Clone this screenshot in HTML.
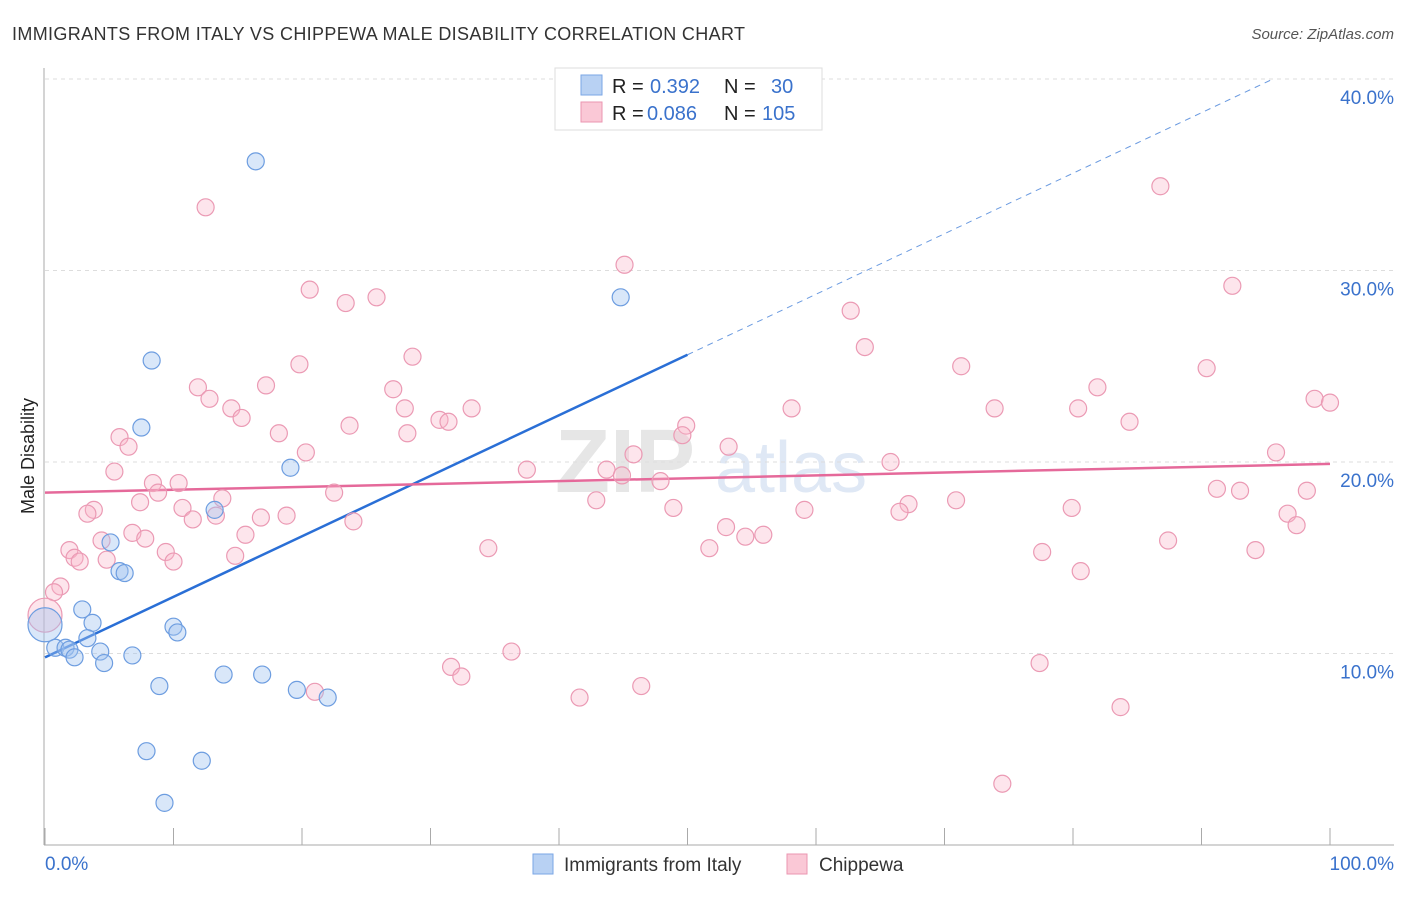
<!DOCTYPE html>
<html><head><meta charset="utf-8"><style>
body{margin:0;background:#fff;font-family:"Liberation Sans",sans-serif;}
svg text{font-family:"Liberation Sans",sans-serif;}
</style></head><body>
<svg id="chart" width="1406" height="892" xmlns="http://www.w3.org/2000/svg">
<text x="12" y="40" font-size="18" fill="#333" textLength="733">IMMIGRANTS FROM ITALY VS CHIPPEWA MALE DISABILITY CORRELATION CHART</text>
<text x="1394" y="39" font-size="15" fill="#555" font-style="italic" text-anchor="end">Source: ZipAtlas.com</text>
<text x="34" y="456" font-size="18" fill="#222" text-anchor="middle" transform="rotate(-90 34 456)">Male Disability</text>
<g><text x="555" y="492" font-size="90" fill="#e6e6e6" font-family="Liberation Serif" font-weight="bold">ZIP</text><text x="715" y="492" font-size="72" fill="#dfe8f5">atlas</text></g>
<g id="grid"></g><g id="axes"></g><g id="lines"></g><g id="pts"></g>
<g>
<rect x="555" y="68" width="267" height="62" fill="#fff" stroke="#ddd"/>
<rect x="581" y="75" width="21" height="20" fill="#b8d1f3" stroke="#7aa6e6"/>
<rect x="581" y="102" width="21" height="20" fill="#fac8d6" stroke="#eb96b0"/>
<text x="612" y="93" font-size="20" fill="#222">R = </text><text x="650" y="93" font-size="20" fill="#3a72cc">0.392</text>
<text x="724" y="93" font-size="20" fill="#222">N = </text><text x="771" y="93" font-size="20" fill="#3a72cc">30</text>
<text x="612" y="120" font-size="20" fill="#222">R = </text><text x="647" y="120" font-size="20" fill="#3a72cc">0.086</text>
<text x="724" y="120" font-size="20" fill="#222">N = </text><text x="762" y="120" font-size="20" fill="#3a72cc">105</text>
</g>
<g>
<rect x="533" y="854" width="20" height="20" fill="#b8d1f3" stroke="#7aa6e6"/>
<text x="564" y="871" font-size="19" fill="#333">Immigrants from Italy</text>
<rect x="787" y="854" width="20" height="20" fill="#fac8d6" stroke="#eb96b0"/>
<text x="819" y="871" font-size="19" fill="#333">Chippewa</text>
</g>
</svg>
<script>
const blueX=[16.4,44.8,8.3,7.5,19.1,13.2,5.1,5.8,6.2,2.9,3.7,10.0,10.3,3.3,0.8,1.6,1.9,4.3,2.3,6.8,4.6,13.9,16.9,8.9,19.6,22.0,7.9,12.2,9.3,0];
const blueY=[35.7,28.6,25.3,21.8,19.7,17.5,15.8,14.3,14.2,12.3,11.6,11.4,11.1,10.8,10.3,10.3,10.2,10.1,9.8,9.9,9.5,8.9,8.9,8.3,8.1,7.7,4.9,4.4,2.2,11.5];
const pinkX=[12.5,86.8,45.1,20.6,23.4,25.8,62.7,92.4,28.6,19.8,63.8,71.3,11.9,17.2,27.1,90.4,12.8,14.5,15.3,28.0,33.2,58.1,73.9,80.4,81.9,98.8,100,84.4,30.7,31.4,23.7,18.2,5.8,6.5,28.2,49.9,49.6,53.2,20.3,95.8,45.8,65.8,5.4,37.5,43.7,44.9,47.9,8.4,10.4,8.8,22.5,13.8,7.4,91.2,93.0,98.2,42.9,70.9,48.9,59.1,67.2,66.5,10.7,3.8,3.3,13.3,11.5,16.8,18.8,24.0,79.9,96.7,97.4,53.0,6.8,7.8,15.6,54.5,55.9,4.4,87.4,1.9,9.4,34.5,51.7,94.2,14.8,2.3,4.8,2.7,10.0,77.6,80.6,1.2,0.7,0,36.3,31.6,32.4,77.4,46.4,21.0,41.6,83.7,74.5];
const pinkY=[33.3,34.4,30.3,29.0,28.3,28.6,27.9,29.2,25.5,25.1,26.0,25.0,23.9,24.0,23.8,24.9,23.3,22.8,22.3,22.8,22.8,22.8,22.8,22.8,23.9,23.3,23.1,22.1,22.2,22.1,21.9,21.5,21.3,20.8,21.5,21.9,21.4,20.8,20.5,20.5,20.4,20.0,19.5,19.6,19.6,19.3,19.0,18.9,18.9,18.4,18.4,18.1,17.9,18.6,18.5,18.5,18.0,18.0,17.6,17.5,17.8,17.4,17.6,17.5,17.3,17.2,17.0,17.1,17.2,16.9,17.6,17.3,16.7,16.6,16.3,16.0,16.2,16.1,16.2,15.9,15.9,15.4,15.3,15.5,15.5,15.4,15.1,15.0,14.9,14.8,14.8,15.3,14.3,13.5,13.2,12.0,10.1,9.3,8.8,9.5,8.3,8.0,7.7,7.2,3.2];
const yTicks=[10,20,30,40];
const yTickLabels=["10.0%","20.0%","30.0%","40.0%"];
const xTicks=[0,10,20,30,40,50,60,70,80,90,100];
const blueTrend=[9.8,0.316];
const pinkTrend=[18.4,0.015];
const NS="http://www.w3.org/2000/svg";
const sx=v=>45+v*12.85, sy=v=>845-v*19.15;
function mk(tag,attrs,parent){const e=document.createElementNS(NS,tag);for(const k in attrs)e.setAttribute(k,attrs[k]);document.getElementById(parent).appendChild(e);return e;}
yTicks.forEach((t,i)=>{
 const g=mk('line',{x1:45,x2:1394,y1:sy(t),y2:sy(t),stroke:'#ddd','stroke-dasharray':'4,4'},'grid');
 
 
 const l=mk('text',{x:1394,y:sy(t)+25,'font-size':19,fill:'#3a72cc','text-anchor':'end'},'grid');l.textContent=yTickLabels[i];
 
 
});
const ya=mk('line',{x1:44,x2:44,y1:68,y2:845,stroke:'#aaa'},'axes');


const xa=mk('line',{x1:44,x2:1394,y1:845,y2:845,stroke:'#aaa'},'axes');


xTicks.forEach(t=>{const k=mk('line',{x1:sx(t),x2:sx(t),y1:828,y2:845,stroke:'#aaa'},'axes');
 
 });
const x0=mk('text',{x:45,y:870,'font-size':19,fill:'#3a72cc'},'axes');x0.textContent='0.0%';


const x1=mk('text',{x:1394,y:870,'font-size':19,fill:'#3a72cc','text-anchor':'end'},'axes');x1.textContent='100.0%';


const bx2=(40-blueTrend[0])/blueTrend[1];
const bs=mk('line',{x1:sx(0),y1:sy(blueTrend[0]),x2:sx(50),y2:sy(blueTrend[0]+50*blueTrend[1]),stroke:'#2a6fd6','stroke-width':2.5},'lines');


const bd=mk('line',{x1:sx(50),y1:sy(blueTrend[0]+50*blueTrend[1]),x2:sx(bx2),y2:sy(40),stroke:'#6a9ae0','stroke-width':1,'stroke-dasharray':'6,5'},'lines');


const pl=mk('line',{x1:sx(0),y1:sy(pinkTrend[0]),x2:sx(100),y2:sy(pinkTrend[0]+100*pinkTrend[1]),stroke:'#e5699a','stroke-width':2.5},'lines');


pinkX.forEach((x,i)=>{const c=mk('circle',{cx:sx(x),cy:sy(pinkY[i]),r:(x===0?17:8.5),fill:'rgba(248,180,200,0.35)',stroke:'#eb9ab4','stroke-width':1.2},'pts');
 
 });
blueX.forEach((x,i)=>{const c=mk('circle',{cx:sx(x),cy:sy(blueY[i]),r:(x===0?17:8.5),fill:'rgba(160,195,240,0.4)',stroke:'#6d9de0','stroke-width':1.2},'pts');
 
 });
</script>
</body></html>
